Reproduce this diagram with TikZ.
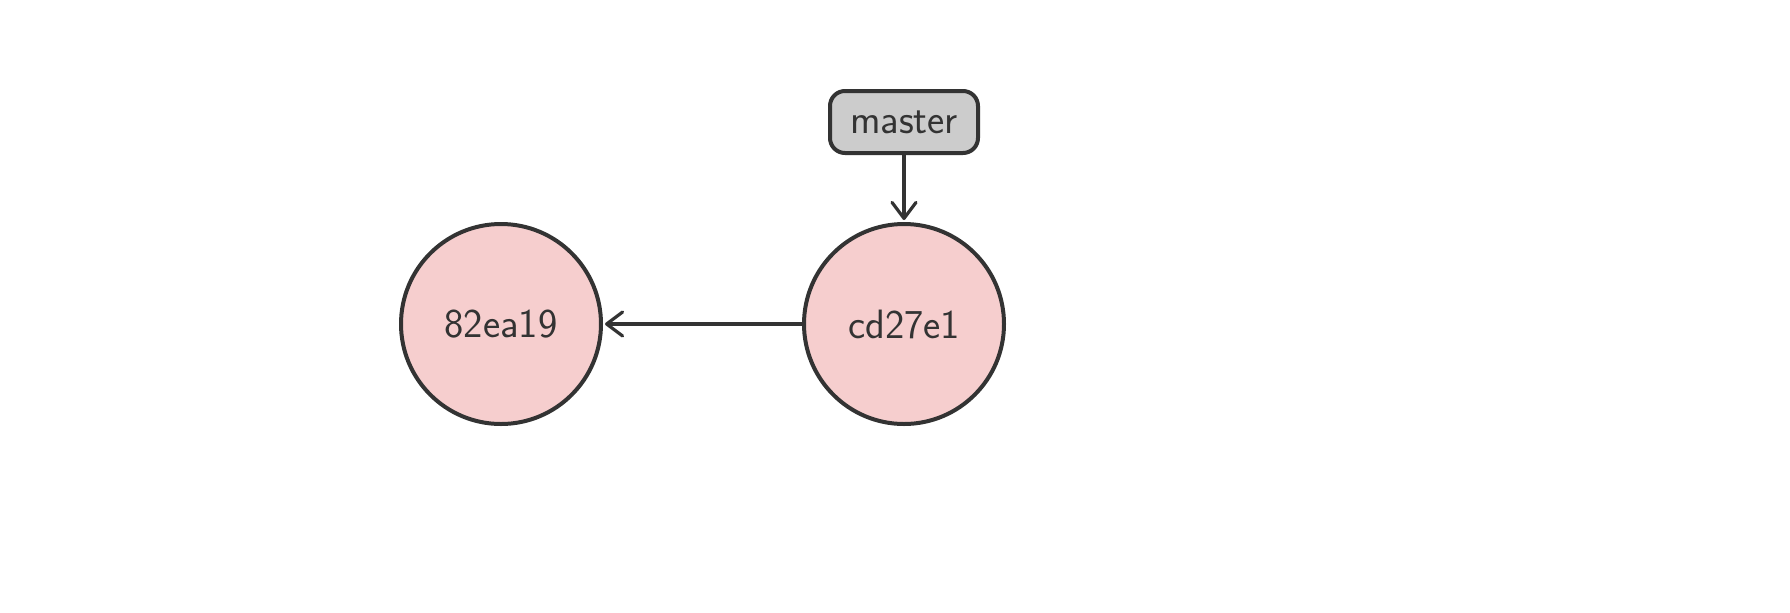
\documentclass[tikz,border=0pt]{standalone}
\usetikzlibrary{arrows.meta}
\definecolor{inkgray}{HTML}{333333}
\definecolor{commitfill}{HTML}{F6CECE}
\definecolor{branchfill}{HTML}{CCCCCC}
\begin{document}
\begin{tikzpicture}[x=0.5pt,y=-0.5pt,
  every node/.style={font=\sffamily\fontsize{20.5}{24}\selectfont, text=inkgray},
  commit/.style={circle, draw=inkgray, line width=2pt, fill=commitfill, minimum size=100pt, inner sep=0pt},
  branch/.style={rectangle, rounded corners=7.5pt, draw=inkgray, line width=2pt, fill=branchfill, minimum width=74pt, minimum height=31pt, inner sep=0pt},
  link/.style={draw=inkgray, line width=2pt, -{Straight Barb[length=8pt,width=12pt,line width=1.6pt,round]}, shorten >=1pt}]
  \useasboundingbox (0,0) rectangle (1790,612);
  \node[commit] (c1) at (501,324) {82ea19};
  \node[commit] (c2) at (904,324) {cd27e1};
  \node[branch] (m) at (904,122) {master};
  \draw[link] (c2) -- (c1);
  \draw[link] (m) -- (c2);
\end{tikzpicture}
\end{document}
